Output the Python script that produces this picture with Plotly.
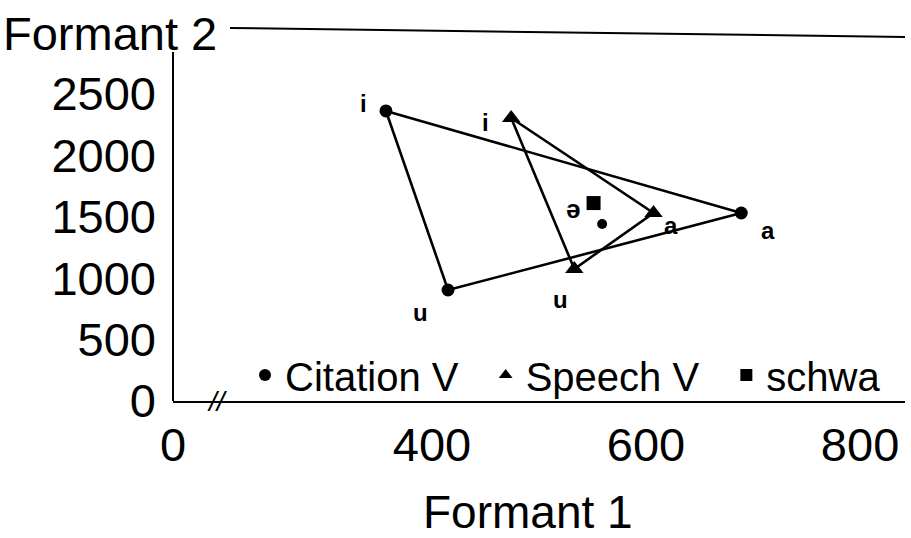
import plotly.graph_objects as go

# Formant values [Hz]
VOWELS = ['i', 'u', 'a']
CITATION_F1 = [357, 415, 689]
CITATION_F2 = [2362, 904, 1531]
SPEECH_F1 = [474, 533, 607]
SPEECH_F2 = [2305, 1075, 1531]
SCHWA_F1 = [551]
SCHWA_F2 = [1612]
SCHWA_DOT_F1 = [559]
SCHWA_DOT_F2 = [1441]

# axis ticks (the "0" sits at the axis break)
X_TICKVALS = [158, 400, 600, 800]
X_TICKTEXT = ['0', '400', '600', '800']
Y_TICKVALS = [0, 500, 1000, 1500, 2000, 2500]

FONT = 'Liberation Sans'
W, H = 911, 538
M_L, M_R, M_T, M_B = 173, 6, 33, 137
PAD = '\u00a0\u00a0'  # extra room between legend entries

# label offsets in pixels (x, y) for i, u, a
CIT_OFFSETS = [(-22, 7), (-28, -22), (27, -17)]
SPEECH_OFFSETS = [(-26, -5), (-14, -30), (17, -12)]


def closed(v):
    return v + v[:1]


fig = go.Figure()

# triangle outlines
fig.add_trace(go.Scatter(x=closed(CITATION_F1), y=closed(CITATION_F2), mode='lines',
                         line=dict(color='black', width=2.6), showlegend=False, hoverinfo='skip'))
fig.add_trace(go.Scatter(x=closed(SPEECH_F1), y=closed(SPEECH_F2), mode='lines',
                         line=dict(color='black', width=2.6), showlegend=False, hoverinfo='skip'))

# vowel points
fig.add_trace(go.Scatter(x=CITATION_F1, y=CITATION_F2, mode='markers', name='Citation V' + PAD,
                         marker=dict(symbol='circle', size=13, color='black')))
fig.add_trace(go.Scatter(x=SPEECH_F1, y=SPEECH_F2, mode='markers', name='Speech V' + PAD,
                         marker=dict(symbol='triangle-up', size=16, color='black')))
fig.add_trace(go.Scatter(x=SCHWA_F1, y=SCHWA_F2, mode='markers', name='schwa',
                         marker=dict(symbol='square', size=14, color='black')))
fig.add_trace(go.Scatter(x=SCHWA_DOT_F1, y=SCHWA_DOT_F2, mode='markers', showlegend=False,
                         marker=dict(symbol='circle', size=10, color='black')))

pw = W - M_L - M_R
ph = H - M_T - M_B

label_font = dict(family=FONT, size=24, color='black')
annotations = []
for xs, ys, offs in [(CITATION_F1, CITATION_F2, CIT_OFFSETS), (SPEECH_F1, SPEECH_F2, SPEECH_OFFSETS)]:
    for v, x, y, (dx, dy) in zip(VOWELS, xs, ys, offs):
        annotations.append(dict(text='<b>%s</b>' % v, x=x, y=y, xshift=dx, yshift=dy,
                                showarrow=False, font=label_font))
annotations.append(dict(text='<b>ə</b>', x=SCHWA_F1[0], y=SCHWA_F2[0], xshift=-21, yshift=-6,
                        showarrow=False, font=dict(family=FONT, size=26, color='black')))

annotations += [
    dict(text='Formant 2', xref='paper', yref='paper', x=(1 - M_L) / pw, y=(401 - 33) / ph,
         xanchor='left', yanchor='middle', showarrow=False,
         font=dict(family=FONT, size=47, color='black')),
    dict(text='Formant 1', xref='paper', yref='paper', x=(528 - M_L) / pw, y=(401 - 512) / ph,
         xanchor='center', yanchor='middle', showarrow=False,
         font=dict(family=FONT, size=46, color='black')),
    dict(text='<i>//</i>', xref='paper', yref='paper', x=(217 - M_L) / pw, y=0,
         xanchor='center', yanchor='middle', showarrow=False,
         font=dict(family=FONT, size=28, color='black')),
]

fig.update_xaxes(range=[158, 842], tickvals=X_TICKVALS, ticktext=X_TICKTEXT,
                 showgrid=False, zeroline=False, showline=True, linecolor='black', linewidth=2,
                 ticks='', ticklabelstandoff=2,
                 tickfont=dict(family=FONT, size=47, color='black'))
fig.update_yaxes(range=[0, 2997], tickvals=Y_TICKVALS,
                 showgrid=False, zeroline=False, showline=False,
                 ticks='', ticklabelstandoff=16,
                 tickfont=dict(family=FONT, size=47, color='black'))

fig.update_layout(
    width=W, height=H,
    margin=dict(l=M_L, r=M_R, t=M_T, b=M_B),
    paper_bgcolor='white', plot_bgcolor='white',
    font=dict(family=FONT, color='black'),
    legend=dict(orientation='h', x=(245 - M_L) / pw, xanchor='left',
                y=(401 - 375) / ph, yanchor='middle',
                font=dict(family=FONT, size=40, color='black'),
                bgcolor='rgba(0,0,0,0)', itemsizing='constant', tracegroupgap=0),
    shapes=[
        # left axis line (starts below the title)
        dict(type='line', xref='paper', yref='paper', x0=0, x1=0, y0=0, y1=(401 - 52) / ph,
             line=dict(color='black', width=2)),
        # frame line to the right of "Formant 2"
        dict(type='line', xref='paper', yref='paper', x0=(230 - M_L) / pw, x1=1,
             y0=(401 - 28) / ph, y1=(401 - 37) / ph, line=dict(color='black', width=2)),
    ],
    annotations=annotations,
)

fig.write_html('out.html', config={'displayModeBar': False},
               post_script="document.body.style.margin='0';")
